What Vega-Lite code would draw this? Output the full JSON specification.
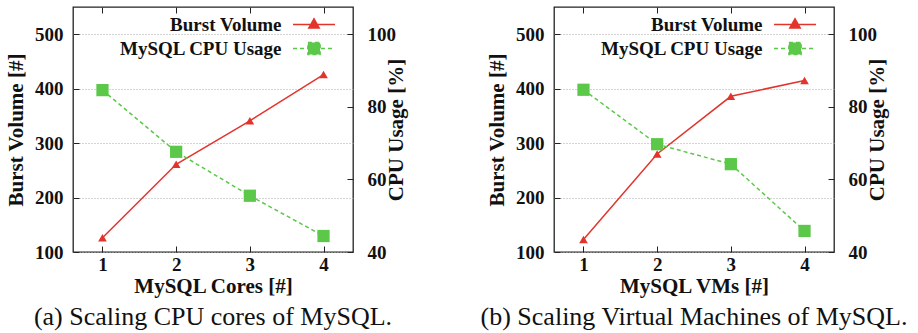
{
  "$schema": "https://vega.github.io/schema/vega-lite/v6.json",
  "padding": {"left": 4, "top": 5, "right": 0, "bottom": 0},
  "datasets": {
    "d": [
      {"panel": "a", "n": 1, "burst": 126, "cpu": 84.6},
      {"panel": "a", "n": 2, "burst": 261, "cpu": 67.6},
      {"panel": "a", "n": 3, "burst": 341, "cpu": 55.5},
      {"panel": "a", "n": 4, "burst": 426, "cpu": 44.4},
      {"panel": "b", "n": 1, "burst": 123, "cpu": 84.7},
      {"panel": "b", "n": 2, "burst": 280, "cpu": 69.7},
      {"panel": "b", "n": 3, "burst": 386, "cpu": 64.2},
      {"panel": "b", "n": 4, "burst": 415, "cpu": 45.8}
    ]
  },
  "data": {"name": "d"},
  "config": {
    "view": {"stroke": "#222", "strokeWidth": 1.3},
    "axis": {
      "labelFont": "Liberation Serif", "labelFontWeight": "bold", "labelFontSize": 19, "labelColor": "#111",
      "titleFont": "Liberation Serif", "titleFontWeight": "bold", "titleFontSize": 21, "titleColor": "#111",
      "domain": false, "tickColor": "#222", "tickSize": -6, "tickWidth": 1, "grid": false
    },
    "title": {"font": "Liberation Serif", "fontWeight": "normal", "fontSize": 26, "color": "#111", "orient": "bottom", "anchor": "middle", "offset": 8},
    "legend": {
      "orient": "none", "legendX": 220, "legendY": 8, "title": null, "labelAlign": "right", "labelOffset": -42,
      "rowPadding": 4, "padding": 0, "symbolOffset": 11.5, "symbolSize": 100,
      "labelFont": "Liberation Serif", "labelFontWeight": "bold", "labelFontSize": 19, "labelColor": "#111", "labelLimit": 0
    }
  },
  "resolve": {"scale": {"color": "independent"}},
  "spacing": 71,
  "hconcat": [
    {
      "width": 280, "height": 245,
      "title": "(a) Scaling CPU cores of MySQL.",
      "transform": [{"filter": "datum.panel === 'a'"}],
      "layer": [
        {
          "encoding": {
            "x": {"field": "n", "type": "quantitative", "scale": {"domain": [0.6, 4.4], "nice": false, "zero": false},
                  "axis": {"values": [1, 2, 3, 4], "title": "MySQL Cores [#]", "labelPadding": 9, "titlePadding": 1, "format": "d"}},
            "y": {"field": "burst", "type": "quantitative", "scale": {"domain": [100, 550], "nice": false, "zero": false},
                  "axis": {"orient": "left", "values": [100, 200, 300, 400, 500], "title": "Burst Volume [#]", "labelPadding": 16, "titlePadding": 8,
                           "grid": true, "gridColor": "#aaa", "gridDash": [1, 2], "gridWidth": 1}},
            "color": {"datum": "Burst Volume", "type": "nominal",
                      "scale": {"domain": ["Burst Volume", "MySQL CPU Usage"], "range": ["#e3342c", "#5cc84a"]},
                      "legend": {"encode": {"symbols": {"update": {
                        "shape": {"signal": "datum.value === 'Burst Volume' ? 'M-4.2,0H4.2M0,-1.13L1.05,0.71L-1.05,0.71Z' : 'M-4.2,0H4.2M-1.22,-1.22H1.22V1.22H-1.22Z'"},
                        "size": {"value": 100},
                        "strokeDash": {"signal": "datum.value === 'Burst Volume' ? [1, 0] : [4, 3]"},
                        "fill": {"signal": "datum.value === 'Burst Volume' ? '#e3342c' : '#5cc84a'"},
                        "stroke": {"signal": "datum.value === 'Burst Volume' ? '#e3342c' : '#5cc84a'"},
                        "strokeWidth": {"value": 1.5}, "opacity": {"value": 1}, "fillOpacity": {"value": 1}, "strokeOpacity": {"value": 1}}}}}}
          },
          "layer": [
            {"mark": {"type": "line", "strokeWidth": 1.5}},
            {"mark": {"type": "point", "shape": "triangle-up", "filled": true, "size": 75, "opacity": 1}}
          ]
        },
        {
          "encoding": {
            "x": {"field": "n", "type": "quantitative", "axis": null},
            "y": {"field": "cpu", "type": "quantitative", "scale": {"domain": [40, 107.5], "nice": false, "zero": false},
                  "axis": {"orient": "right", "values": [40, 60, 80, 100], "title": "CPU Usage [%]", "titleAngle": 270, "labelPadding": 20, "titlePadding": 11}},
            "color": {"datum": "MySQL CPU Usage", "type": "nominal"}
          },
          "layer": [
            {"mark": {"type": "line", "strokeWidth": 1.5, "strokeDash": [4, 3]}},
            {"mark": {"type": "point", "shape": "square", "filled": true, "size": 150, "opacity": 1}}
          ]
        },
        {
          "mark": {"type": "point", "opacity": 0},
          "encoding": {
            "x": {"field": "n", "type": "quantitative", "axis": {"orient": "top", "values": [1, 2, 3, 4], "labels": false, "title": null}}
          }
        }
      ],
      "resolve": {"scale": {"y": "independent"}, "axis": {"x": "independent"}}
    },
    {
      "width": 280, "height": 245,
      "title": "(b) Scaling Virtual Machines of MySQL.",
      "transform": [{"filter": "datum.panel === 'b'"}],
      "layer": [
        {
          "encoding": {
            "x": {"field": "n", "type": "quantitative", "scale": {"domain": [0.6, 4.4], "nice": false, "zero": false},
                  "axis": {"values": [1, 2, 3, 4], "title": "MySQL VMs [#]", "labelPadding": 9, "titlePadding": 1, "format": "d"}},
            "y": {"field": "burst", "type": "quantitative", "scale": {"domain": [100, 550], "nice": false, "zero": false},
                  "axis": {"orient": "left", "values": [100, 200, 300, 400, 500], "title": "Burst Volume [#]", "labelPadding": 16, "titlePadding": 8,
                           "grid": true, "gridColor": "#aaa", "gridDash": [1, 2], "gridWidth": 1}},
            "color": {"datum": "Burst Volume", "type": "nominal",
                      "scale": {"domain": ["Burst Volume", "MySQL CPU Usage"], "range": ["#e3342c", "#5cc84a"]},
                      "legend": {"encode": {"symbols": {"update": {
                        "shape": {"signal": "datum.value === 'Burst Volume' ? 'M-4.2,0H4.2M0,-1.13L1.05,0.71L-1.05,0.71Z' : 'M-4.2,0H4.2M-1.22,-1.22H1.22V1.22H-1.22Z'"},
                        "size": {"value": 100},
                        "strokeDash": {"signal": "datum.value === 'Burst Volume' ? [1, 0] : [4, 3]"},
                        "fill": {"signal": "datum.value === 'Burst Volume' ? '#e3342c' : '#5cc84a'"},
                        "stroke": {"signal": "datum.value === 'Burst Volume' ? '#e3342c' : '#5cc84a'"},
                        "strokeWidth": {"value": 1.5}, "opacity": {"value": 1}, "fillOpacity": {"value": 1}, "strokeOpacity": {"value": 1}}}}}}
          },
          "layer": [
            {"mark": {"type": "line", "strokeWidth": 1.5}},
            {"mark": {"type": "point", "shape": "triangle-up", "filled": true, "size": 75, "opacity": 1}}
          ]
        },
        {
          "encoding": {
            "x": {"field": "n", "type": "quantitative", "axis": null},
            "y": {"field": "cpu", "type": "quantitative", "scale": {"domain": [40, 107.5], "nice": false, "zero": false},
                  "axis": {"orient": "right", "values": [40, 60, 80, 100], "title": "CPU Usage [%]", "titleAngle": 270, "labelPadding": 20, "titlePadding": 11}},
            "color": {"datum": "MySQL CPU Usage", "type": "nominal"}
          },
          "layer": [
            {"mark": {"type": "line", "strokeWidth": 1.5, "strokeDash": [4, 3]}},
            {"mark": {"type": "point", "shape": "square", "filled": true, "size": 150, "opacity": 1}}
          ]
        },
        {
          "mark": {"type": "point", "opacity": 0},
          "encoding": {
            "x": {"field": "n", "type": "quantitative", "axis": {"orient": "top", "values": [1, 2, 3, 4], "labels": false, "title": null}}
          }
        }
      ],
      "resolve": {"scale": {"y": "independent"}, "axis": {"x": "independent"}}
    }
  ]
}
